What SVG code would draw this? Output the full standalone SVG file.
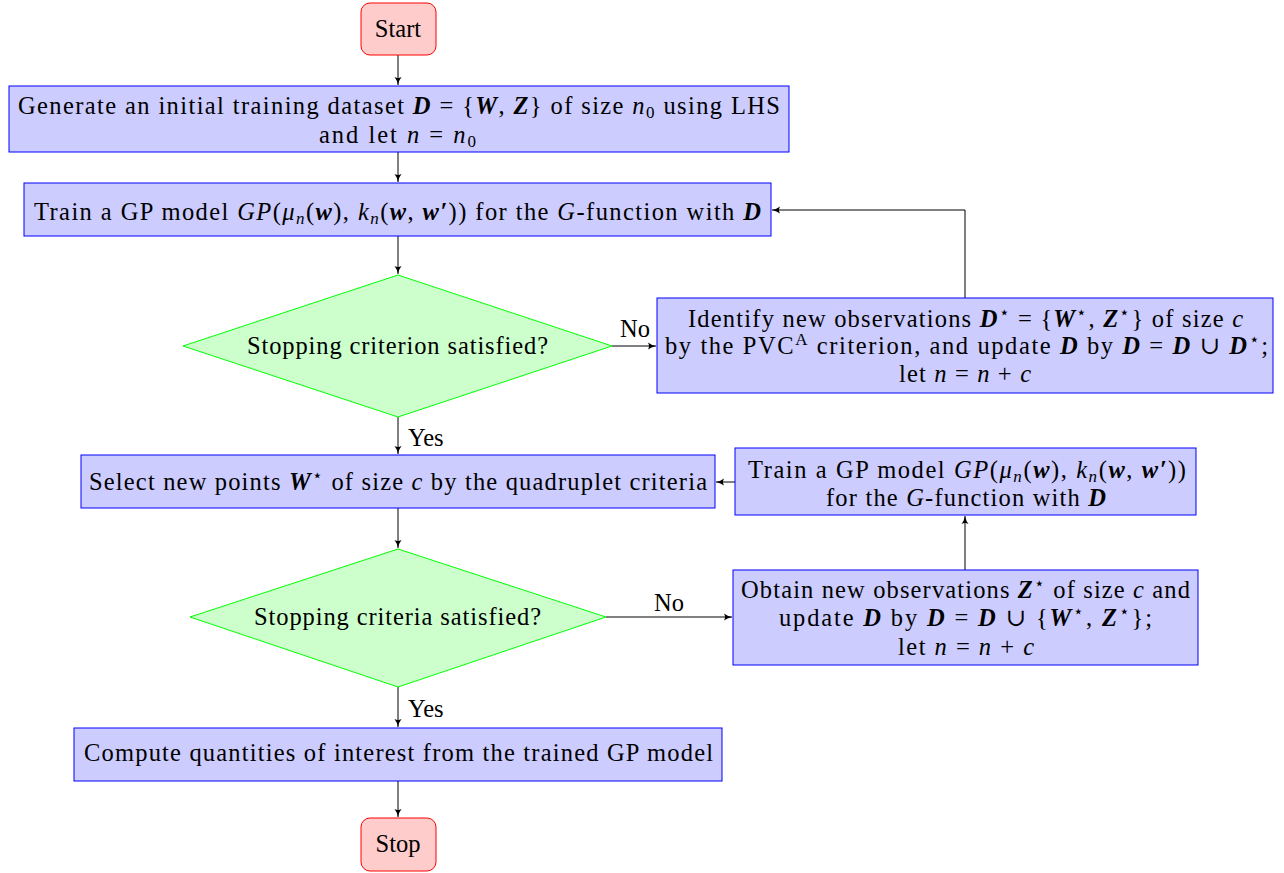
<svg xmlns="http://www.w3.org/2000/svg" width="1284" height="873" viewBox="0 0 1284 873">
<style>
.t{font-family:"Liberation Serif","DejaVu Serif",serif;font-size:24.5px;fill:#000}
.b{fill:#ccccff;stroke:#0000ff;stroke-width:1}
.d{fill:#ccffcc;stroke:#00ff00;stroke-width:1}
.s{fill:#ffcccc;stroke:#ff0000;stroke-width:1}
.c{fill:none;stroke:#000;stroke-width:1}
.m{font-style:italic}
.bm{font-style:italic;font-weight:bold}
.sb{font-size:17px}
</style>
<defs>
<marker id="ah" markerWidth="10" markerHeight="8" refX="8" refY="4" orient="auto" markerUnits="userSpaceOnUse">
<path d="M0,0.5 Q3,3 8,4 Q3,5 0,7.5 Q2,4 0,0.5Z" fill="#000"/>
</marker>
</defs>
<rect width="1284" height="873" fill="#fff"/>
<g id="connectors">
<line class="c" x1="398" y1="55" x2="398" y2="85" marker-end="url(#ah)"/>
<line class="c" x1="398" y1="152" x2="398" y2="182" marker-end="url(#ah)"/>
<line class="c" x1="398" y1="236" x2="398" y2="274" marker-end="url(#ah)"/>
<line class="c" x1="612" y1="346" x2="656" y2="346" marker-end="url(#ah)"/>
<polyline class="c" points="965,298 965,210 772,210" marker-end="url(#ah)"/>
<line class="c" x1="398" y1="417" x2="398" y2="454" marker-end="url(#ah)"/>
<line class="c" x1="398" y1="508" x2="398" y2="548" marker-end="url(#ah)"/>
<line class="c" x1="606" y1="617" x2="732" y2="617" marker-end="url(#ah)"/>
<line class="c" x1="965" y1="570" x2="965" y2="516" marker-end="url(#ah)"/>
<line class="c" x1="735" y1="482" x2="716" y2="482" marker-end="url(#ah)"/>
<line class="c" x1="398" y1="687" x2="398" y2="727" marker-end="url(#ah)"/>
<line class="c" x1="398" y1="781" x2="398" y2="817" marker-end="url(#ah)"/>
<text class="t" x="620" y="337">No</text>
<text class="t" x="408" y="446">Yes</text>
<text class="t" x="654" y="611">No</text>
<text class="t" x="408" y="717">Yes</text>
</g>
<g id="start">
<rect class="s" x="361" y="3" width="75" height="52" rx="9"/>
<text class="t" x="398" y="37" text-anchor="middle">Start</text>
</g>
<g id="init">
<rect class="b" x="9" y="86" width="780" height="66"/>
<text class="t" x="18" y="114" textLength="762">Generate an initial training dataset <tspan class="bm">D</tspan> = {<tspan class="bm">W</tspan>, <tspan class="bm">Z</tspan>} of size <tspan class="m">n</tspan><tspan class="sb" dy="4">0</tspan><tspan dy="-4"> using LHS</tspan></text>
<text class="t" x="319" y="143" textLength="157">and let <tspan class="m">n</tspan> = <tspan class="m">n</tspan><tspan class="sb" dy="4">0</tspan></text>
</g>
<g id="train1">
<rect class="b" x="24" y="183" width="747" height="53"/>
<text class="t" x="34" y="220" textLength="727">Train a GP model <tspan class="m">GP</tspan>(<tspan class="m">μ</tspan><tspan class="m sb" dy="4">n</tspan><tspan dy="-4">(</tspan><tspan class="bm">w</tspan>), <tspan class="m">k</tspan><tspan class="m sb" dy="4">n</tspan><tspan dy="-4">(</tspan><tspan class="bm">w</tspan>, <tspan class="bm">w′</tspan>)) for the <tspan class="m">G</tspan>-function with <tspan class="bm">D</tspan></text>
</g>
<g id="stop1">
<polygon class="d" points="398,275 612,346 398,417 183,346"/>
<text class="t" x="247" y="354" textLength="301">Stopping criterion satisfied?</text>
</g>
<g id="identify">
<rect class="b" x="657" y="298" width="616" height="95"/>
<text class="t" x="688" y="327" textLength="555">Identify new observations <tspan class="bm">D</tspan><tspan class="sb" dy="-9">⋆</tspan><tspan dy="9"> = {</tspan><tspan class="bm">W</tspan><tspan class="sb" dy="-9">⋆</tspan><tspan dy="9">, </tspan><tspan class="bm">Z</tspan><tspan class="sb" dy="-9">⋆</tspan><tspan dy="9">} of size </tspan><tspan class="m">c</tspan></text>
<text class="t" x="665" y="354" textLength="603">by the PVC<tspan class="sb" dy="-9">A</tspan><tspan dy="9"> criterion, and update </tspan><tspan class="bm">D</tspan> by <tspan class="bm">D</tspan> = <tspan class="bm">D</tspan> ∪ <tspan class="bm">D</tspan><tspan class="sb" dy="-9">⋆</tspan><tspan dy="9">;</tspan></text>
<text class="t" x="899" y="382" textLength="132">let <tspan class="m">n</tspan> = <tspan class="m">n</tspan> + <tspan class="m">c</tspan></text>
</g>
<g id="select">
<rect class="b" x="81" y="455" width="634" height="53"/>
<text class="t" x="89" y="490" textLength="618">Select new points <tspan class="bm">W</tspan><tspan class="sb" dy="-9">⋆</tspan><tspan dy="9"> of size </tspan><tspan class="m">c</tspan> by the quadruplet criteria</text>
</g>
<g id="train2">
<rect class="b" x="735" y="448" width="461" height="67"/>
<text class="t" x="748" y="478" textLength="438">Train a GP model <tspan class="m">GP</tspan>(<tspan class="m">μ</tspan><tspan class="m sb" dy="4">n</tspan><tspan dy="-4">(</tspan><tspan class="bm">w</tspan>), <tspan class="m">k</tspan><tspan class="m sb" dy="4">n</tspan><tspan dy="-4">(</tspan><tspan class="bm">w</tspan>, <tspan class="bm">w′</tspan>))</text>
<text class="t" x="826" y="506" textLength="280">for the <tspan class="m">G</tspan>-function with <tspan class="bm">D</tspan></text>
</g>
<g id="stop2">
<polygon class="d" points="398,549 606,617 398,687 190,617"/>
<text class="t" x="254" y="625" textLength="287">Stopping criteria satisfied?</text>
</g>
<g id="obtain">
<rect class="b" x="733" y="570" width="465" height="95"/>
<text class="t" x="741" y="598" textLength="449">Obtain new observations <tspan class="bm">Z</tspan><tspan class="sb" dy="-9">⋆</tspan><tspan dy="9"> of size </tspan><tspan class="m">c</tspan> and</text>
<text class="t" x="779" y="626" textLength="373">update <tspan class="bm">D</tspan> by <tspan class="bm">D</tspan> = <tspan class="bm">D</tspan> ∪ {<tspan class="bm">W</tspan><tspan class="sb" dy="-9">⋆</tspan><tspan dy="9">, </tspan><tspan class="bm">Z</tspan><tspan class="sb" dy="-9">⋆</tspan><tspan dy="9">};</tspan></text>
<text class="t" x="898" y="655" textLength="136">let <tspan class="m">n</tspan> = <tspan class="m">n</tspan> + <tspan class="m">c</tspan></text>
</g>
<g id="compute">
<rect class="b" x="74" y="728" width="648" height="53"/>
<text class="t" x="84" y="761" textLength="629">Compute quantities of interest from the trained GP model</text>
</g>
<g id="stop">
<rect class="s" x="361" y="818" width="75" height="53" rx="9"/>
<text class="t" x="398" y="852" text-anchor="middle">Stop</text>
</g>
</svg>
